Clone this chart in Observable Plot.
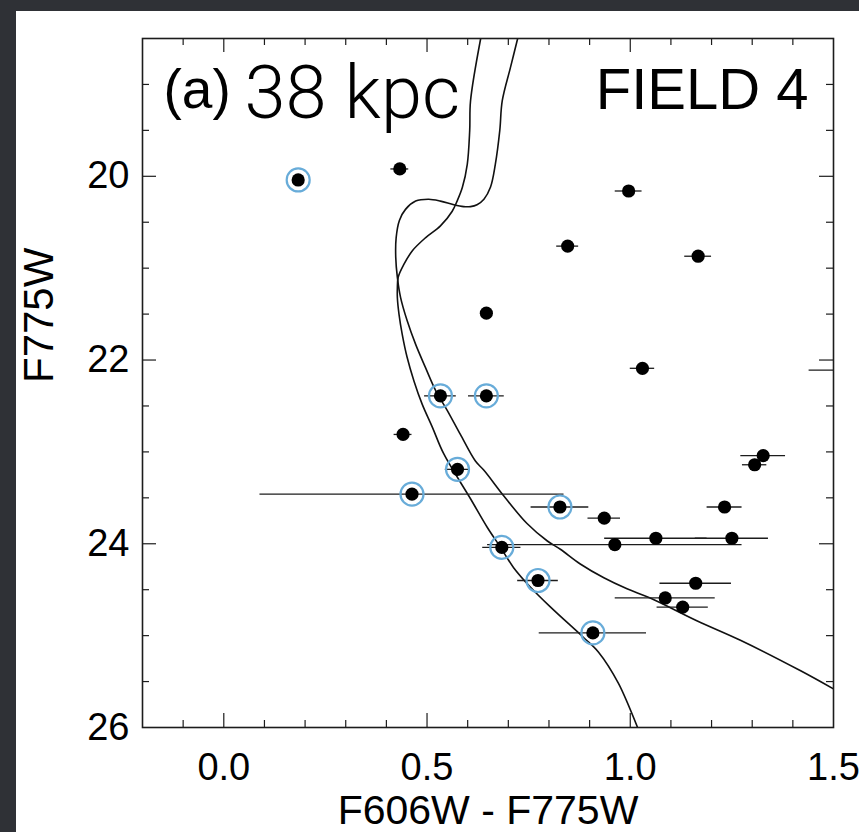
<!DOCTYPE html>
<html>
<head>
<meta charset="utf-8">
<script src="https://cdn.jsdelivr.net/npm/d3@7"></script>
<script src="https://cdn.jsdelivr.net/npm/@observablehq/plot@0.6"></script>
<style>
html, body { margin: 0; padding: 0; background: #2f3136; width: 859px; height: 832px; overflow: hidden; }
#panel { position: absolute; left: 16px; top: 11px; width: 843px; height: 821px; background: #ffffff; }
</style>
</head>
<body>
<div id="panel"></div>
<script>
// ---- Stars (F606W - F775W colour, F775W magnitude, colour error, circled flag) ----
const starColor = [0.183, 0.433, 0.996, 0.846, 1.167, 0.646, 1.030, 0.533, 0.646, 0.441, 0.575, 0.463, 0.827, 1.327, 1.306, 1.232, 0.936, 1.063, 1.250, 0.962, 0.684, 0.773, 1.161, 1.086, 1.129, 0.908, 1.560];
const starMag   = [20.04, 19.92, 20.16, 20.76, 20.87, 21.49, 22.09, 22.39, 22.39, 22.81, 23.19, 23.46, 23.60, 23.04, 23.14, 23.60, 23.72, 23.94, 23.94, 24.01, 24.04, 24.40, 24.43, 24.59, 24.69, 24.97, 22.11];
const starErr   = [0.010, 0.022, 0.033, 0.027, 0.033, 0.008, 0.030, 0.039, 0.044, 0.022, 0.030, 0.374, 0.071, 0.055, 0.030, 0.043, 0.040, 0.126, 0.090, 0.313, 0.047, 0.050, 0.088, 0.123, 0.063, 0.132, 0.120];
const circled   = [1, 0, 0, 0, 0, 0, 0, 1, 1, 0, 1, 1, 1, 0, 0, 0, 0, 0, 0, 0, 1, 1, 0, 0, 0, 1, 0];

// ---- Isochrone 1 (smooth subgiant branch, ends at the bottom) ----
const iso1Color = [0.632, 0.607, 0.605, 0.599, 0.587, 0.574, 0.562, 0.533, 0.496, 0.464, 0.443, 0.429, 0.427, 0.427, 0.431, 0.439, 0.451, 0.468, 0.488, 0.513, 0.541, 0.607, 0.648, 0.681, 0.713, 0.754, 0.804, 0.885, 0.922, 0.971, 1.018];
const iso1Mag   = [18.50, 19.18, 19.50, 19.87, 20.12, 20.27, 20.38, 20.54, 20.67, 20.81, 20.96, 21.10, 21.22, 21.32, 21.50, 21.72, 21.97, 22.23, 22.48, 22.73, 23.02, 23.51, 23.82, 24.04, 24.26, 24.47, 24.69, 25.02, 25.18, 25.52, 26.00];

// ---- Isochrone 2 (turnoff bump, ends at the right edge) ----
const iso2Color = [0.723, 0.705, 0.685, 0.679, 0.668, 0.656, 0.640, 0.623, 0.607, 0.590, 0.566, 0.533, 0.504, 0.472, 0.447, 0.432, 0.424, 0.423, 0.427, 0.435, 0.451, 0.472, 0.496, 0.521, 0.550, 0.582, 0.619, 0.640, 0.689, 0.746, 0.796, 0.828, 0.877, 0.935, 0.992, 1.049, 1.165, 1.271, 1.418, 1.500];
const iso2Mag   = [18.50, 18.82, 19.18, 19.50, 19.87, 20.12, 20.25, 20.31, 20.33, 20.33, 20.31, 20.27, 20.25, 20.27, 20.36, 20.48, 20.67, 20.88, 21.10, 21.32, 21.57, 21.83, 22.08, 22.33, 22.55, 22.81, 23.10, 23.20, 23.48, 23.78, 23.97, 24.06, 24.22, 24.37, 24.49, 24.59, 24.84, 25.05, 25.38, 25.58];

// ---- Axis ticks ----
const xLabelTicks = [0.0, 0.5, 1.0, 1.5];
const xMajorTicks = [0.0, 0.5, 1.0];
const xMinorTicks = [-0.1, 0.1, 0.2, 0.3, 0.4, 0.6, 0.7, 0.8, 0.9, 1.1, 1.2, 1.3, 1.4];
const yLabelTicks = [20, 22, 24, 26];
const yMajorTicks = [20, 22, 24];
const yMinorTicks = [19, 19.5, 20.5, 21, 21.5, 22.5, 23, 23.5, 24.5, 25, 25.5];

const stars = starColor.map((c, i) => ({c, m: starMag[i], e: starErr[i], ring: circled[i] === 1}));
const iso1 = iso1Color.map((c, i) => ({c, m: iso1Mag[i]}));
const iso2 = iso2Color.map((c, i) => ({c, m: iso2Mag[i]}));

const W = 843, H = 821, mL = 126, mT = 27, mR = 26, mB = 105;
const frameW = W - mL - mR, frameH = H - mT - mB;
const major = 14, minor = 7;
const ink = "#1c1c1c";
const sans = "'Liberation Sans', Arial, Helvetica, sans-serif";

const chart = Plot.plot({
  width: W, height: H,
  marginLeft: mL, marginTop: mT, marginRight: mR, marginBottom: mB,
  style: {background: "#ffffff", fontFamily: sans, color: ink, overflow: "visible"},
  x: {domain: [-0.2, 1.5]},
  y: {domain: [26, 18.5]},
  marks: [
    // inward ticks on all four sides
    Plot.tickX(xMajorTicks, {x: d => d, insetTop: frameH - major, stroke: ink, strokeWidth: 1.2}),
    Plot.tickX(xMajorTicks, {x: d => d, insetBottom: frameH - major, stroke: ink, strokeWidth: 1.2}),
    Plot.tickX(xMinorTicks, {x: d => d, insetTop: frameH - minor, stroke: ink, strokeWidth: 1.2}),
    Plot.tickX(xMinorTicks, {x: d => d, insetBottom: frameH - minor, stroke: ink, strokeWidth: 1.2}),
    Plot.tickY(yMajorTicks, {y: d => d, insetRight: frameW - major, stroke: ink, strokeWidth: 1.2}),
    Plot.tickY(yMajorTicks, {y: d => d, insetLeft: frameW - major, stroke: ink, strokeWidth: 1.2}),
    Plot.tickY(yMinorTicks, {y: d => d, insetRight: frameW - minor, stroke: ink, strokeWidth: 1.2}),
    Plot.tickY(yMinorTicks, {y: d => d, insetLeft: frameW - minor, stroke: ink, strokeWidth: 1.2}),
    Plot.axisX(xLabelTicks, {tickSize: 0, tickPadding: 26, tickFormat: d3.format(".1f"), fontSize: 38, label: null, fill: "#000"}),
    Plot.axisY(yLabelTicks, {tickSize: 0, tickPadding: 13, tickFormat: d3.format("d"), fontSize: 38, label: null, fill: "#000"}),
    // isochrones
    Plot.line(iso1, {x: "c", y: "m", curve: "catmull-rom", stroke: "#111", strokeWidth: 1.6, clip: true}),
    Plot.line(iso2, {x: "c", y: "m", curve: "catmull-rom", stroke: "#111", strokeWidth: 1.6, clip: true}),
    // error bars
    Plot.ruleY(stars, {y: "m", x1: d => d.c - d.e, x2: d => d.c + d.e, stroke: ink, strokeWidth: 1.3, clip: true}),
    // selected stars
    Plot.dot(stars.filter(d => d.ring), {x: "c", y: "m", r: 11.5, stroke: "#68acd9", strokeWidth: 2.2, fill: "none", clip: true}),
    Plot.dot(stars, {x: "c", y: "m", r: 6.6, fill: "#000", stroke: "none", clip: true}),
    Plot.frame({stroke: ink, strokeWidth: 1.6}),
    // annotations
    Plot.text(["(a)"], {frameAnchor: "top-left", dx: 21, dy: 69, textAnchor: "start", lineAnchor: "bottom", fontSize: 55, fill: "#000"}),
    Plot.text(["38 kpc"], {frameAnchor: "top-left", dx: 102, dy: 79, textAnchor: "start", lineAnchor: "bottom", fontSize: 74, fontWeight: 300, fontFamily: "Roboto, Lato, 'Open Sans', sans-serif", fill: "#000"}),
    Plot.text(["FIELD 4"], {frameAnchor: "top-right", dx: -25, dy: 70, textAnchor: "end", lineAnchor: "bottom", fontSize: 58, fill: "#000"}),
    Plot.text(["F606W - F775W"], {frameAnchor: "bottom", dy: 96, lineAnchor: "bottom", fontSize: 41, fill: "#000"}),
    Plot.text(["F775W"], {frameAnchor: "left", dx: -90, rotate: -90, lineAnchor: "bottom", fontSize: 42, fill: "#000"})
  ]
});
document.getElementById("panel").appendChild(chart);
</script>
</body>
</html>
